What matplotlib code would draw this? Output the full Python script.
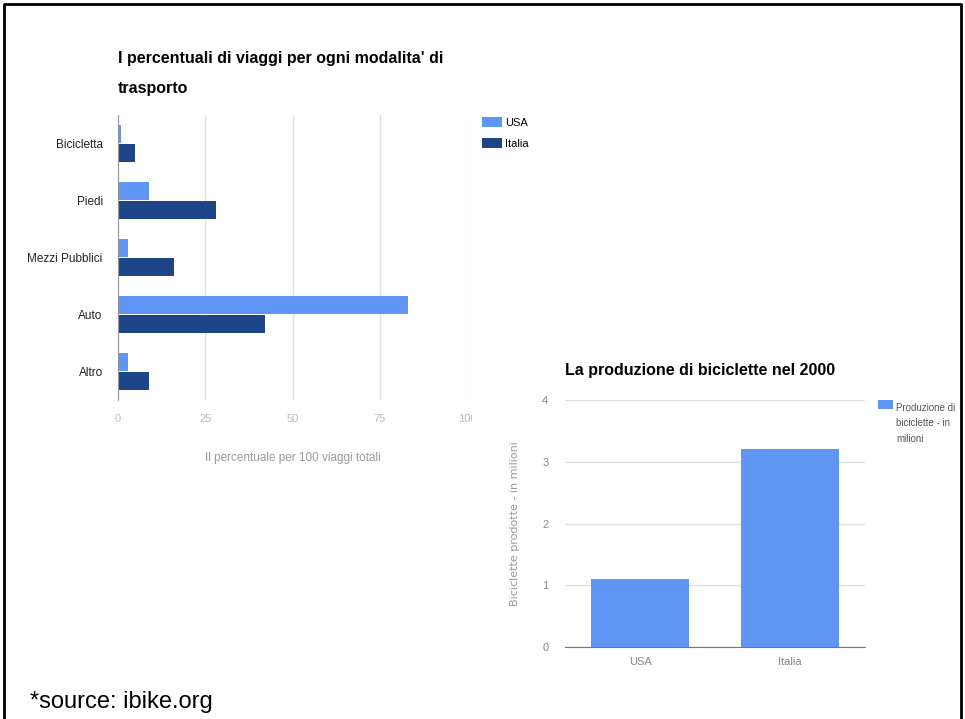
import matplotlib.pyplot as plt
import numpy as np
from matplotlib.lines import Line2D
from matplotlib.patches import Rectangle
from matplotlib.legend_handler import HandlerPatch
from matplotlib.transforms import Bbox

plt.rcParams['font.family'] = ['Liberation Sans', 'DejaVu Sans']

# dati grafico 1
modalita = ['Bicicletta', 'Piedi', 'Mezzi Pubblici', 'Auto', 'Altro']
usa = [1, 9, 3, 83, 3]
italia = [5, 28, 16, 42, 9]

# dati grafico 2
paesi = ['USA', 'Italia']
produzione = [1.1, 3.2]

c_usa = '#5f96f3'
c_ita = '#1d4587'
grigio = '#9a9a9a'

fig = plt.figure(figsize=(9.65, 7.19), dpi=100)
# cornice nera (sopra, sinistra, destra)
fig.lines.append(Line2D([0.004, 0.004, 0.996, 0.996], [0.0, 0.995, 0.995, 0.0],
                        transform=fig.transFigure, color='black', linewidth=2))

# --- grafico a barre orizzontali
ax1 = fig.add_axes([118 / 965, 1 - 400 / 719, 349 / 965, 285 / 719])
y = np.arange(len(modalita))
h = 0.32
ax1.barh(y - h / 2 - 0.005, usa, height=h, color=c_usa, label='USA')
ax1.barh(y + h / 2 + 0.005, italia, height=h, color=c_ita, label='Italia')
ax1.set_ylim(len(modalita) - 0.5, -0.5)
ax1.set_xlim(0, 100)
ax1.set_yticks(y)
ax1.set_yticklabels(modalita, fontsize=8.5, color='#222222')
ax1.set_xticks([0, 25, 50, 75, 100])
ax1.set_xticklabels(['0', '25', '50', '75', '100'], fontsize=8, color='#bbbbbb')
ax1.tick_params(length=0, pad=11)
ax1.tick_params(axis='x', pad=10)
ax1.grid(axis='x', color='#e0e0e0', linewidth=1)
ax1.set_axisbelow(True)
for s in ['top', 'right', 'bottom']:
    ax1.spines[s].set_visible(False)
ax1.spines['left'].set_color('#999999')
ax1.set_xlabel('Il percentuale per 100 viaggi totali', fontsize=8.5, color=grigio, labelpad=20)
ax1.set_title("I percentuali di viaggi per ogni modalita' di\ntrasporto", loc='left',
              fontsize=11.5, fontweight='bold', linespacing=2.2, pad=16)
# l'etichetta 100 risulta tagliata nell'originale
lab = ax1.get_xticklabels()[-1]
lab.set_clip_box(Bbox.from_extents(0, 0, 472, 719))
lab.set_clip_on(True)
ax1.legend(loc='upper left', bbox_to_anchor=(1.03, 1.01), frameon=False, fontsize=8,
           handlelength=1.8, handleheight=1.1, labelspacing=0.9, handletextpad=0.3,
           borderaxespad=0)


# il quadratino della legenda allineato alla prima riga del testo
def quadratino(legend, orig_handle, xdescent, ydescent, width, height, fontsize):
    return Rectangle((-xdescent, -ydescent + 2.0 * fontsize), width, height)


# --- grafico a colonne
ax2 = fig.add_axes([565 / 965, 1 - 647 / 719, 300 / 965, 247 / 719])
x = np.arange(len(paesi))
barre = ax2.bar(x, produzione, width=0.65, color=c_usa)
ax2.set_xlim(-0.5, 1.5)
ax2.set_ylim(0, 4)
ax2.set_yticks([0, 1, 2, 3, 4])
ax2.set_xticks(x)
ax2.set_xticklabels(paesi)
ax2.tick_params(length=0, labelsize=8, labelcolor='#888888')
ax2.tick_params(axis='y', pad=12)
ax2.tick_params(axis='x', pad=7)
ax2.grid(axis='y', color='#e0e0e0', linewidth=1)
ax2.set_axisbelow(True)
for s in ['top', 'right', 'left']:
    ax2.spines[s].set_visible(False)
ax2.spines['bottom'].set_color('#777777')
ax2.set_ylabel('Biciclette prodotte - in milioni', family='DejaVu Sans', fontsize=8,
               color=grigio, labelpad=16)
ax2.set_title('La produzione di biciclette nel 2000', loc='left', fontsize=11.5,
              fontweight='bold', pad=18)
primo = barre.patches[0]
leg = ax2.legend([primo], ['Produzione di\nbiciclette - in\nmilioni'],
                 loc='upper left', bbox_to_anchor=(1.03, 1.005), frameon=False, fontsize=7,
                 handlelength=1.6, handleheight=1.0, handletextpad=0.3, borderaxespad=0,
                 labelcolor='#555555',
                 handler_map={primo: HandlerPatch(patch_func=quadratino)})
leg.get_texts()[0].set_linespacing(1.7)

fig.text(30 / 965, 1 - 702 / 719, '*source: ibike.org', fontsize=17, va='center')

fig.savefig('out.png', dpi=100)
